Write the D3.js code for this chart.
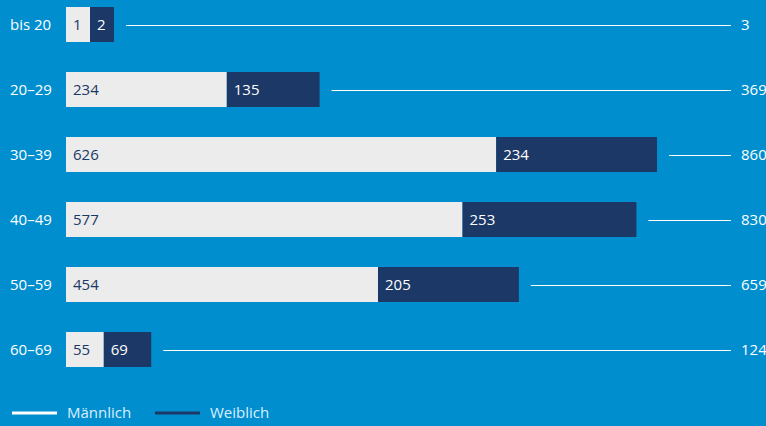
<!DOCTYPE html>
<html>
<head>
<meta charset="utf-8">
<script src="https://cdn.jsdelivr.net/npm/d3@7"></script>
<style>
    html, body { margin: 0; padding: 0; background: #008ecf; }
    svg { display: block; font-family: "Open Sans", "Noto Sans", sans-serif; }
</style>
</head>
<body>
<div id="chart"></div>
<script>
// age groups and counts per group
const categories = ["bis 20", "20–29", "30–39", "40–49", "50–59", "60–69"];
const maennlich = [1, 234, 626, 577, 454, 55];
const weiblich = [2, 135, 234, 253, 205, 69];
const legendLabels = ["Männlich", "Weiblich"];

const w = 766;
const h = 426;
const colors = { m: "#ececec", f: "#1b3866", bg: "#008ecf" };

let totals = categories.map((c, i) => maennlich[i] + weiblich[i]);

let rows = categories.map((c, i) => ({ cat: c, m: maennlich[i], f: weiblich[i], total: totals[i] }));

let svg = d3.select("#chart")
            .append("svg")
            .attr("width", w)
            .attr("height", h);

svg.append("rect").attr("width", w).attr("height", h).attr("fill", colors.bg);

//x scale: values to pixels, bars start at 66
let xScale = d3.scaleLinear()
               .domain([0, d3.max(totals)])
               .range([66, 657]);

// a segment never gets narrower than its label needs
const minW = 24;
let segW = v => Math.max(xScale(v) - xScale(0), minW);

let yScale = d3.scaleBand()
               .domain(categories)
               .range([-8, 382])
               .paddingInner(30 / 65)
               .paddingOuter(15 / 65);

let row = svg.append("g")
             .selectAll("g")
             .data(rows)
             .enter()
             .append("g")
             .attr("transform", d => `translate(0, ${yScale(d.cat)})`);

let bh = yScale.bandwidth();

//category labels
row.append("text")
   .attr("x", 10)
   .attr("y", bh / 2)
   .attr("dy", "0.36em")
   .attr("fill", "#fff")
   .attr("font-size", "15px")
   .text(d => d.cat);

//male segment
row.append("rect")
   .attr("x", xScale(0))
   .attr("y", 0)
   .attr("width", d => segW(d.m))
   .attr("height", bh)
   .attr("fill", colors.m);

//female segment
row.append("rect")
   .attr("x", d => xScale(0) + segW(d.m))
   .attr("y", 0)
   .attr("width", d => segW(d.f))
   .attr("height", bh)
   .attr("fill", colors.f);

row.append("text")
   .attr("x", xScale(0) + 7)
   .attr("y", bh / 2)
   .attr("dy", "0.36em")
   .attr("fill", colors.f)
   .attr("font-size", "15px")
   .text(d => d.m);

row.append("text")
   .attr("x", d => xScale(0) + segW(d.m) + 7)
   .attr("y", bh / 2)
   .attr("dy", "0.36em")
   .attr("fill", "#fff")
   .attr("font-size", "15px")
   .text(d => d.f);

//connector line to the total
row.append("line")
   .attr("x1", d => xScale(0) + segW(d.m) + segW(d.f) + 12)
   .attr("x2", 731)
   .attr("y1", Math.round(bh / 2) + 0.5)
   .attr("y2", Math.round(bh / 2) + 0.5)
   .attr("stroke", "#fff")
   .attr("stroke-width", 1);

row.append("text")
   .attr("x", 741)
   .attr("y", bh / 2)
   .attr("dy", "0.36em")
   .attr("fill", "#fff")
   .attr("font-size", "15px")
   .text(d => d.total);

//legend
let legend = svg.append("g")
                .selectAll("g")
                .data(legendLabels)
                .enter()
                .append("g")
                .attr("transform", (d, i) => `translate(${12 + i * 143}, 413)`);

legend.append("line")
      .attr("x1", 0)
      .attr("x2", 45)
      .attr("stroke", (d, i) => i === 0 ? "#fff" : colors.f)
      .attr("stroke-width", 3);

legend.append("text")
      .attr("x", 55)
      .attr("dy", "0.36em")
      .attr("fill", "#dcefff")
      .attr("font-size", "15px")
      .text(d => d);
</script>
</body>
</html>
